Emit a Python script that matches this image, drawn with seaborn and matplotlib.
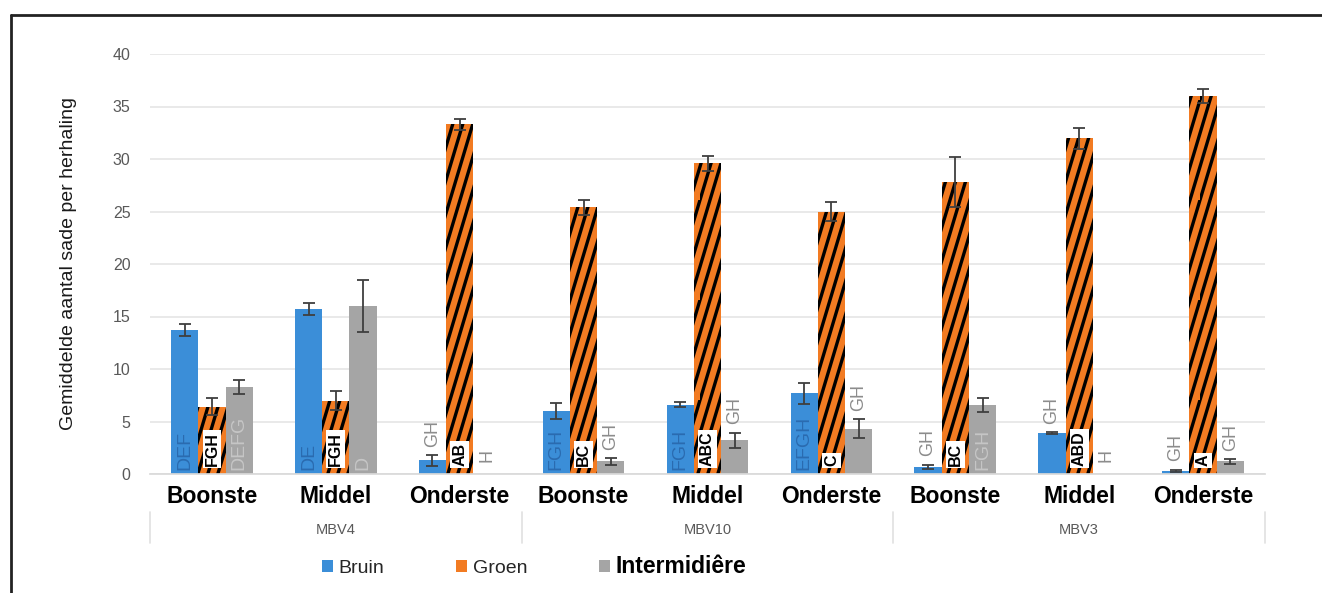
import numpy as np
import pandas as pd
import seaborn as sns
import matplotlib.pyplot as plt
import matplotlib.hatch as mhatch
from matplotlib.path import Path
from matplotlib.lines import Line2D
from matplotlib.patches import Patch
from matplotlib import transforms

# ---- data -------------------------------------------------------------
groepen = ["MBV4", "MBV10", "MBV3"]
posities = ["Boonste", "Middel", "Onderste"]
kleuren = ["Bruin", "Groen", "Intermidiêre"]

bruin = [13.7, 15.7, 1.3, 6.0, 6.6, 7.7, 0.7, 3.9, 0.3]
bruin_se = [0.6, 0.6, 0.5, 0.8, 0.25, 1.0, 0.2, 0.1, 0.1]
groen = [6.4, 7.0, 33.3, 25.4, 29.6, 25.0, 27.8, 32.0, 36.0]
groen_se = [0.8, 0.9, 0.5, 0.7, 0.7, 0.9, 2.4, 1.0, 0.7]
inter = [8.3, 16.0, 0.0, 1.2, 3.2, 4.3, 6.6, 0.0, 1.2]
inter_se = [0.7, 2.5, 0.0, 0.3, 0.75, 0.9, 0.65, 0.0, 0.2]

bruin_letters = ["DEF", "DE", "GH", "FGH", "FGH", "EFGH", "GH", "GH", "GH"]
groen_letters = ["FGH", "FGH", "AB", "BC", "ABC", "C", "BC", "ABD", "A"]
inter_letters = ["DEFG", "D", "H", "GH", "GH", "GH", "FGH", "H", "GH"]

kleur_map = {"Bruin": "#3B8ED8", "Groen": "#F27B22", "Intermidiêre": "#A5A5A5"}


# ---- steep diagonal stripe hatch for '/' -------------------------------
class SteepStripes(mhatch.HatchPatternBase):
    """'/' hatch drawn as steep stripes (about 73 degrees)."""
    per_unit = 10
    shift = 3

    def __init__(self, hatch, density):
        n = hatch.count("/") * self.per_unit
        self.n = n
        self.num_lines = n + self.shift if n else 0
        self.num_vertices = self.num_lines * 2

    def set_vertices_and_codes(self, vertices, codes):
        k = np.arange(-self.shift, self.n)
        x0 = k / self.n
        x1 = x0 + self.shift / self.n
        vertices[0::2, 0] = x0
        vertices[0::2, 1] = 0.0
        vertices[1::2, 0] = x1
        vertices[1::2, 1] = 1.0
        codes[0::2] = Path.MOVETO
        codes[1::2] = Path.LINETO


mhatch._hatch_types = [SteepStripes if t is mhatch.NorthEastHatch else t
                       for t in mhatch._hatch_types]

# ---- long-form table ---------------------------------------------------
cats = [f"{g} {p}" for g in groepen for p in posities]
rows = []
for kleur, vals in zip(kleuren, [bruin, groen, inter]):
    for c, v in zip(cats, vals):
        rows.append({"cat": c, "kleur": kleur, "waarde": v})
df = pd.DataFrame(rows)

# ---- figure ------------------------------------------------------------
sns.set_theme(style="white")
plt.rcParams["font.family"] = ["Liberation Sans", "DejaVu Sans"]
plt.rcParams["hatch.linewidth"] = 2.4
plt.rcParams["hatch.color"] = "black"

fig = plt.figure(figsize=(13.22, 5.93), dpi=100)
ax = fig.add_axes([150 / 1322, 1 - 474 / 593, 1115 / 1322, 420 / 593])

sns.barplot(data=df, x="cat", y="waarde", hue="kleur", order=cats,
            hue_order=kleuren, palette=kleur_map, saturation=1,
            width=0.66, errorbar=None, legend=False, ax=ax,
            linewidth=0)

bar_sets = [sorted(c, key=lambda b: b.get_x()) for c in list(ax.containers)[:3]]

# stripes on the green series
for bar in bar_sets[1]:
    bar.set_hatch("/")
    bar.set_edgecolor("black")
    bar.set_linewidth(0)

ax.set_ylim(0, 40)
ax.set_xlim(-0.5, len(cats) - 0.5)
ax.set_yticks(np.arange(0, 41, 5))
ax.yaxis.grid(True, color="#E3E3E3", linewidth=1.1)
ax.set_axisbelow(True)
for s in ["top", "right", "left"]:
    ax.spines[s].set_visible(False)
ax.spines["bottom"].set_color("#D9D9D9")
ax.tick_params(axis="y", length=0, pad=14, labelsize=11.5, labelcolor="#595959")
ax.tick_params(axis="x", length=0, pad=8)
ax.set_xticks(range(len(cats)))
ax.set_xticklabels(posities * len(groepen), fontsize=16.5, fontweight="bold",
                   color="black")
ax.set_xlabel("")
ax.set_ylabel("Gemiddelde aantal sade per herhaling", fontsize=14,
              color="#1A1A1A")
ax.yaxis.set_label_coords(-73 / 1115, 0.5)

# error bars and significance letters
series = [(bruin_se, bruin_letters), (groen_se, groen_letters),
          (inter_se, inter_letters)]
inside_col = {0: "#2A6BB0", 2: "#C6C6C6"}
for si, (bars, (errs, letters)) in enumerate(zip(bar_sets, series)):
    for bar, e, lab in zip(bars, errs, letters):
        x = bar.get_x() + bar.get_width() / 2
        h = bar.get_height()
        if e > 0:
            ax.errorbar(x, h, yerr=e, fmt="none", ecolor="#3F3F3F",
                        elinewidth=1.3, capsize=4, capthick=1.3, zorder=4)
        if si == 1:
            ax.text(x, 0.75, lab, rotation=90, ha="center", va="bottom",
                    fontsize=11.5, fontweight="bold", color="black", zorder=5,
                    bbox=dict(boxstyle="square,pad=0.12", facecolor="white",
                              edgecolor="none"))
        elif h >= 5:
            ax.text(x, 0.35, lab, rotation=90, ha="center", va="bottom",
                    fontsize=14, color=inside_col[si], zorder=5)
        else:
            top = h + e + 0.8 if h > 0 else 1.1
            ax.text(x, top, lab, rotation=90, ha="center", va="bottom",
                    fontsize=13, color="#8C8C8C", zorder=5)

# second level of the category axis
trans = transforms.blended_transform_factory(ax.transData, ax.transAxes)
for gi, g in enumerate(groepen):
    mid = gi * len(posities) + (len(posities) - 1) / 2
    ax.text(mid, -0.133, g, transform=trans, ha="center", va="center",
            fontsize=10.5, color="#595959")
for b in np.arange(-0.5, len(cats), len(posities)):
    ax.add_line(Line2D([b, b], [-0.09, -0.165], transform=trans,
                       color="#E0E0E0", linewidth=1.2, clip_on=False))

# legend
handles = [Patch(facecolor=kleur_map[k], edgecolor="none") for k in kleuren]
leg = fig.legend(handles, kleuren, loc="center", bbox_to_anchor=(0.404, 0.045),
                 ncol=3, frameon=False, fontsize=14, handlelength=0.55,
                 handleheight=0.55, handletextpad=0.3, columnspacing=3.7)
for t in leg.get_texts():
    t.set_color("#262626")
leg.get_texts()[2].set_fontsize(16.5)
leg.get_texts()[2].set_fontweight("bold")
leg.get_texts()[2].set_color("black")

# outer frame on top and left
fig.add_artist(Line2D([10.5 / 1322, 10.5 / 1322], [0, 1 - 14.5 / 593],
                      transform=fig.transFigure, color="#222222", linewidth=2))
fig.add_artist(Line2D([10.5 / 1322, 1], [1 - 14.5 / 593, 1 - 14.5 / 593],
                      transform=fig.transFigure, color="#222222", linewidth=2))

fig.savefig("out.png", dpi=100, facecolor="white")
